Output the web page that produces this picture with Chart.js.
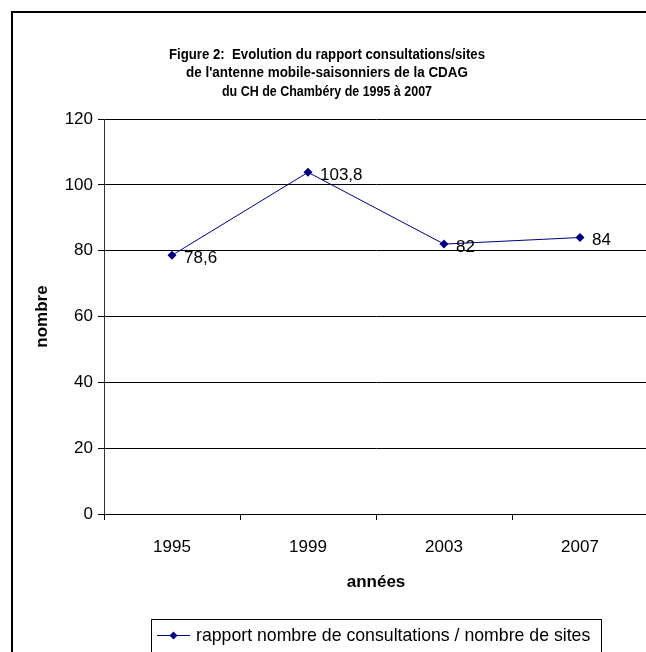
<!DOCTYPE html>
<html>
<head>
<meta charset="utf-8">
<script src="https://cdn.jsdelivr.net/npm/chart.js@4/dist/chart.umd.min.js"></script>
<style>
  html, body { margin: 0; padding: 0; overflow: hidden; background: #fff; }
  canvas { display: block; }
</style>
</head>
<body>
<canvas id="c" width="660" height="652"></canvas>
<script>
// Survey years and the consultations-per-site ratio
const years = ['1995', '1999', '2003', '2007'];
const ratio = [78.6, 103.8, 82, 84];
const titleLines = [
  'Figure 2:  Evolution du rapport consultations/sites',
  "de l'antenne mobile-saisonniers de la CDAG",
  'du CH de Chambéry de 1995 à 2007'
];
const seriesName = 'rapport nombre de consultations / nombre de sites';
const xTitle = 'années';
const yTitle = 'nombre';

const FONT = "'Liberation Sans', Arial, sans-serif";
const NAVY = '#000080';

function diamond(ctx, x, y, r) {
  ctx.beginPath();
  ctx.moveTo(x, y - r);
  ctx.lineTo(x + r, y);
  ctx.lineTo(x, y + r);
  ctx.lineTo(x - r, y);
  ctx.closePath();
  ctx.fill();
}

// Frame, heading and legend box drawn around the plot
const decorations = {
  id: 'decorations',
  beforeDraw(chart) {
    const ctx = chart.ctx;
    ctx.save();
    ctx.fillStyle = '#fff';
    ctx.fillRect(0, 0, chart.width, chart.height);
    ctx.strokeStyle = '#000';
    ctx.lineWidth = 2;
    ctx.strokeRect(12, 12, 700, 700);
    ctx.restore();
  },
  afterDraw(chart) {
    const ctx = chart.ctx;
    ctx.save();
    // heading, three condensed bold lines
    ctx.fillStyle = '#000';
    ctx.textAlign = 'center';
    ctx.textBaseline = 'middle';
    ctx.font = 'bold 14px ' + FONT;
    const widths = [316, 282, 210];
    titleLines.forEach((t, i) => ctx.fillText(t, 327, 55 + i * 18.5, widths[i]));
    // legend
    ctx.strokeStyle = '#000';
    ctx.lineWidth = 1;
    ctx.strokeRect(151.5, 619.5, 450, 60);
    ctx.strokeStyle = NAVY;
    ctx.beginPath();
    ctx.moveTo(157, 635.5);
    ctx.lineTo(190, 635.5);
    ctx.stroke();
    ctx.fillStyle = NAVY;
    diamond(ctx, 173.5, 635.5, 4);
    ctx.fillStyle = '#000';
    ctx.textAlign = 'left';
    ctx.font = '17.7px ' + FONT;
    ctx.fillText(seriesName, 196, 636);
    ctx.restore();
  }
};

// Value written beside each point, French decimal comma
const valueLabels = {
  id: 'valueLabels',
  afterDatasetsDraw(chart) {
    const ctx = chart.ctx;
    const meta = chart.getDatasetMeta(0);
    ctx.save();
    ctx.fillStyle = '#000';
    ctx.font = '17px ' + FONT;
    ctx.textAlign = 'left';
    ctx.textBaseline = 'middle';
    meta.data.forEach((pt, i) => {
      const v = chart.data.datasets[0].data[i];
      ctx.fillText(v.toLocaleString('fr-FR'), pt.x + 12, pt.y + 3);
    });
    ctx.restore();
  }
};

new Chart(document.getElementById('c'), {
  type: 'line',
  data: {
    labels: years,
    datasets: [{
      label: seriesName,
      data: ratio,
      borderColor: NAVY,
      backgroundColor: NAVY,
      borderWidth: 1,
      pointStyle: 'rectRot',
      pointRadius: 4.5,
      pointBorderWidth: 0,
      pointBackgroundColor: NAVY,
      tension: 0
    }]
  },
  options: {
    responsive: false,
    animation: false,
    devicePixelRatio: 1,
    layout: { padding: { left: 0, right: 12, top: 119, bottom: 0 } },
    plugins: {
      legend: { display: false },
      title: { display: false },
      tooltip: { enabled: false }
    },
    scales: {
      x: {
        offset: true,
        afterFit(scale) { scale.height = 138; },
        grid: {
          offset: true,
          drawOnChartArea: false,
          drawTicks: true,
          tickLength: 6,
          color: '#000'
        },
        border: { color: '#000', width: 1 },
        ticks: {
          color: '#000',
          font: { family: FONT, size: 17 },
          padding: 17,
          maxRotation: 0
        },
        title: {
          display: true,
          text: xTitle,
          color: '#000',
          font: { family: FONT, size: 17, weight: 'bold' },
          padding: { top: 0, bottom: 59 }
        }
      },
      y: {
        min: 0,
        max: 120,
        afterFit(scale) { scale.width = 104; },
        grid: {
          color: '#000',
          tickLength: 6,
          drawTicks: true
        },
        border: { color: '#333', width: 1 },
        ticks: {
          stepSize: 20,
          color: '#000',
          font: { family: FONT, size: 17 },
          padding: 5
        },
        title: {
          display: true,
          text: yTitle,
          color: '#000',
          font: { family: FONT, size: 17, weight: 'bold' },
          padding: { top: 32, bottom: 0 }
        }
      }
    }
  },
  plugins: [decorations, valueLabels]
});
</script>
</body>
</html>
